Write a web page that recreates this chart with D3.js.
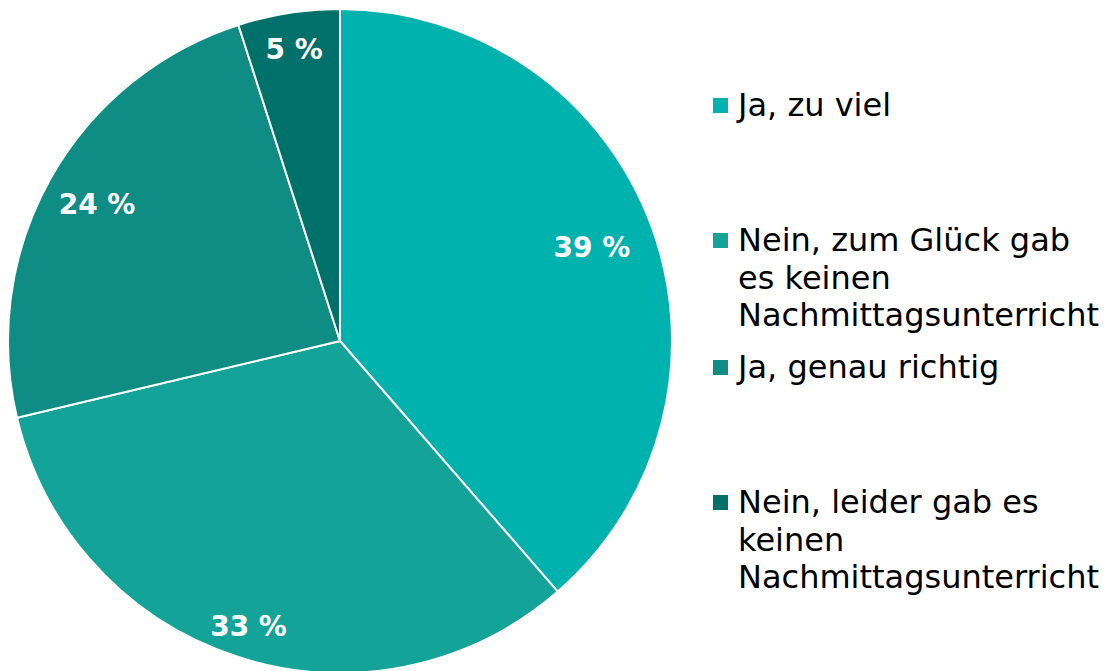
<!DOCTYPE html>
<html>
<head>
<meta charset="utf-8">
<script src="https://cdn.jsdelivr.net/npm/d3@7/dist/d3.min.js"></script>
<style>
  html, body { margin: 0; padding: 0; background: #ffffff; }
  svg { display: block; }
</style>
</head>
<body>
<svg id="chart" width="1106" height="671"></svg>
<script>
// Survey answers on afternoon lessons (share of respondents, %)
const categories = [
  "Ja, zu viel",
  "Nein, zum Glück gab es keinen Nachmittagsunterricht",
  "Ja, genau richtig",
  "Nein, leider gab es keinen Nachmittagsunterricht"
];
const values = [39, 33, 24, 5];
const valueLabels = ["39 %", "33 %", "24 %", "5 %"];
const colors = ["#00b2ad", "#14a398", "#0f8c84", "#00706a"];

// Legend text broken into lines as it is set beside the pie
const legendLines = [
  ["Ja, zu viel"],
  ["Nein, zum Glück gab", "es keinen", "Nachmittagsunterricht"],
  ["Ja, genau richtig"],
  ["Nein, leider gab es", "keinen", "Nachmittagsunterricht"]
];

const svg = d3.select("#chart");
const cx = 340, cy = 341, R = 332;

const pie = d3.pie().sort(null).value(d => d)
  .startAngle(0).endAngle(2 * Math.PI);
const arcs = pie(values);
const arc = d3.arc().innerRadius(0).outerRadius(R);

const g = svg.append("g").attr("transform", `translate(${cx},${cy})`);

g.selectAll("path.slice")
  .data(arcs)
  .join("path")
  .attr("class", "slice")
  .attr("d", arc)
  .attr("fill", (d, i) => colors[i])
  .attr("stroke", "#ffffff")
  .attr("stroke-width", 2)
  .attr("stroke-linejoin", "round");

// Value labels, pulled toward the rim by a per-slice factor
const labelRadius = [0.81, 0.90, 0.84, 0.89];
g.selectAll("text.val")
  .data(arcs)
  .join("text")
  .attr("class", "val")
  .attr("transform", (d, i) => {
    const a = (d.startAngle + d.endAngle) / 2;
    const r = R * labelRadius[i];
    return `translate(${r * Math.sin(a)},${-r * Math.cos(a)})`;
  })
  .attr("text-anchor", "middle")
  .attr("dy", "0.36em")
  .attr("font-family", "'DejaVu Sans', Verdana, sans-serif")
  .attr("font-weight", "bold")
  .attr("font-size", 28)
  .attr("fill", "#ffffff")
  .text((d, i) => valueLabels[i]);

// Legend
const legendBaselines = [116, 251, 378, 513];
const lineHeight = 37.5;
const legend = svg.append("g").attr("class", "legend");
categories.forEach((c, i) => {
  const item = legend.append("g");
  item.append("rect")
    .attr("x", 713).attr("y", legendBaselines[i] - 18)
    .attr("width", 15).attr("height", 15)
    .attr("fill", colors[i]);
  const t = item.append("text")
    .attr("x", 738).attr("y", legendBaselines[i])
    .attr("font-family", "'DejaVu Sans', Verdana, sans-serif")
    .attr("font-size", 32)
    .attr("fill", "#000000");
  legendLines[i].forEach((ln, j) => {
    t.append("tspan")
      .attr("x", 738)
      .attr("y", legendBaselines[i] + j * lineHeight)
      .text(ln);
  });
});
</script>
</body>
</html>
